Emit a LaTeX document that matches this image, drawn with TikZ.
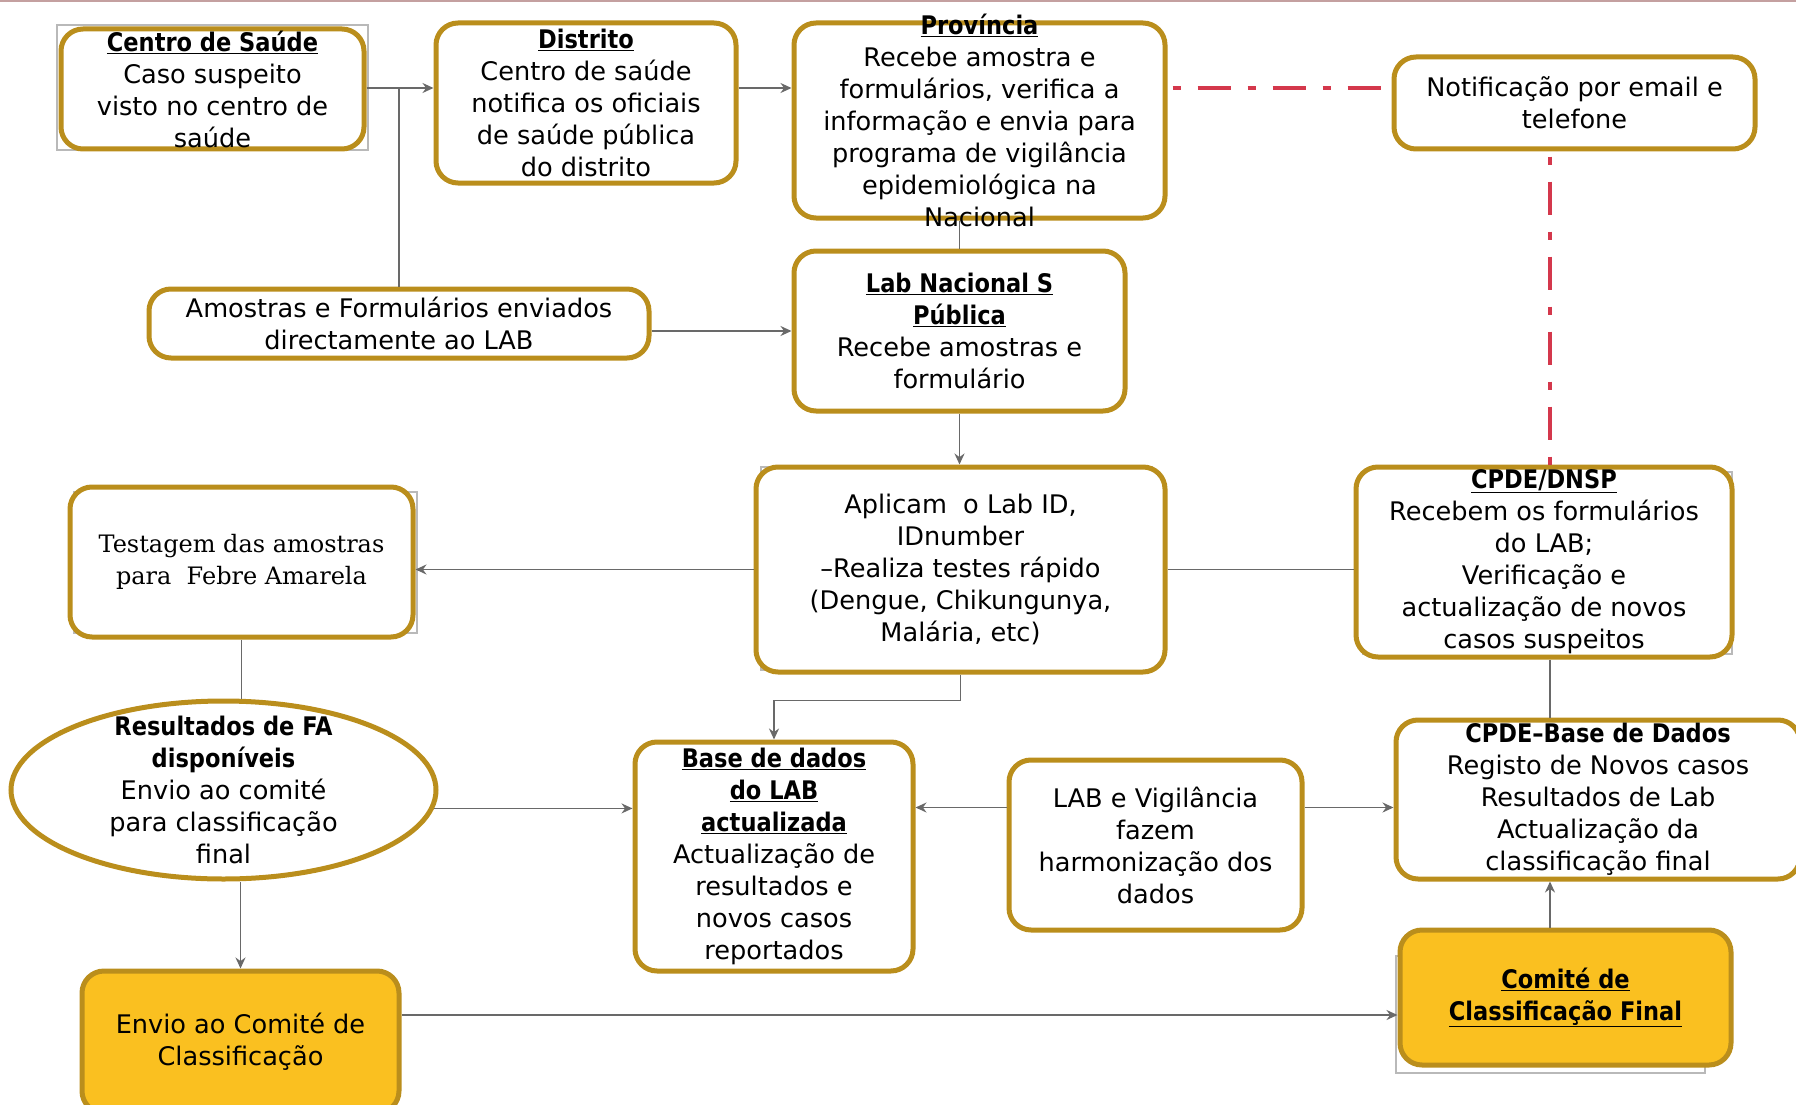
\documentclass[tikz,border=0pt]{standalone}
\usepackage{fontspec}
\setmainfont{DejaVu Sans}[BoldFeatures={FakeStretch=0.88}]
\newfontfamily\serfont{DejaVu Serif}
\usepackage{xcolor}
\usepackage{tikz}
\usetikzlibrary{arrows.meta, positioning, shapes.geometric}

\definecolor{gold}{RGB}{186,142,28}
\definecolor{amber}{RGB}{250,192,32}
\definecolor{linegray}{RGB}{105,105,105}
\definecolor{alertred}{RGB}{212,56,76}
\definecolor{rimline}{RGB}{196,160,160}

\newcommand{\hd}[1]{\textbf{\underline{#1}}}
\newcommand{\txtsize}{\fontsize{25.6}{32}\selectfont}

\begin{document}
\begin{tikzpicture}[
    x=1pt, y=-1pt,
    box/.style={draw=gold, fill=white, line width=5pt, rounded corners=22pt,
                align=center, inner xsep=4pt, inner ysep=-20pt, font=\txtsize},
    hot/.style={box, fill=amber},
    oval/.style={ellipse, draw=gold, fill=white, line width=5pt,
                 align=center, inner xsep=0pt, inner ysep=-20pt, font=\txtsize},
    link/.style={draw=linegray, line width=1.6pt},
    arr/.style={link, -{Stealth[length=11pt, width=10pt]}},
    alert/.style={draw=alertred, line width=3.5pt,
                  dash pattern=on 8pt off 17pt on 33pt off 17pt, dash phase=-5pt},
    ghost/.style={draw=gray!55, line width=1.5pt}
  ]
  \useasboundingbox (0,0) rectangle (1796,1105);
  \draw[rimline, line width=2pt] (0,1) -- (1796,1);

  % frames left behind the boxes
  \draw[ghost] (57,25) rectangle (368,150);
  \draw[ghost] (74,492) rectangle (417,633);
  \draw[ghost] (761,467) rectangle (1152,670);
  \draw[ghost] (1363,472) rectangle (1732,654);
  \draw[ghost] (1396,956) rectangle (1705,1073);

  % top row
  \node[box, minimum width=303pt, minimum height=120pt] (cs) at (212.5,89)
    {\hd{Centro de Saúde}\\Caso suspeito\\visto no centro de\\saúde};
  \node[box, minimum width=300pt, minimum height=160pt] (dist) at (586,103)
    {\hd{Distrito}\\Centro de saúde\\notifica os oficiais\\de saúde pública\\do distrito};
  \node[box, minimum width=371pt, minimum height=195pt] (prov) at (979.5,120.5)
    {\hd{Província}\\Recebe amostra e\\formulários, verifica a\\informação e envia para\\programa de vigilância\\epidemiológica na\\Nacional};
  \node[box, minimum width=361pt, minimum height=92pt] (notif) at (1574.5,103)
    {Notificação por email e\\telefone};

  % samples and lab
  \node[box, minimum width=500pt, minimum height=69pt] (amos) at (399,323.5)
    {Amostras e Formulários enviados\\directamente ao LAB};
  \node[box, minimum width=331pt, minimum height=160pt] (lab) at (959.5,331)
    {\hd{Lab Nacional S}\\\hd{Pública}\\Recebe amostras e\\formulário};

  % middle row
  \node[box, minimum width=343pt, minimum height=150pt,
        font=\serfont\fontsize{24}{32}\selectfont] (test) at (241.5,562)
    {Testagem das amostras\\para~ Febre Amarela};
  \node[box, minimum width=409pt, minimum height=205pt] (apl) at (960.5,569.5)
    {Aplicam~ o Lab ID,\\IDnumber\\–Realiza testes rápido\\(Dengue, Chikungunya,\\Malária, etc)};
  \node[box, minimum width=376pt, minimum height=190pt] (dnsp) at (1544,562)
    {\hd{CPDE/DNSP}\\Recebem os formulários\\do LAB;\\Verificação e\\actualização de novos\\casos suspeitos};

  % lower row
  \node[oval, minimum width=425pt, minimum height=178pt] (res) at (223.5,790)
    {\textbf{Resultados de FA}\\\textbf{disponíveis}\\Envio ao comité\\para classificação\\final};
  \node[box, minimum width=278pt, minimum height=229pt] (base) at (774,856.5)
    {\hd{Base de dados}\\\hd{do LAB}\\\hd{actualizada}\\Actualização de\\resultados e\\novos casos\\reportados};
  \node[box, minimum width=293pt, minimum height=170pt] (harm) at (1155.5,845)
    {LAB e Vigilância\\fazem\\harmonização dos\\dados};
  \node[box, minimum width=404pt, minimum height=159pt] (cbase) at (1598,799.5)
    {\textbf{CPDE–Base de Dados}\\Registo de Novos casos\\Resultados de Lab\\Actualização da\\classificação final};

  % committee
  \node[hot, minimum width=317pt, minimum height=142pt] (envio) at (240.5,1042)
    {Envio ao Comité de\\Classificação};
  \node[hot, minimum width=331pt, minimum height=135pt] (com) at (1565.5,997.5)
    {\hd{Comité de}\\\hd{Classificação Final}};

  \coordinate (rowA) at (0,88);
  \coordinate (rowB) at (0,807.5);
  \coordinate (rowC) at (0,1015);
  \coordinate (colR) at (1550,0);

  % connectors
  \draw[arr] (cs.east |- rowA) -- (dist.west |- rowA);
  \draw[link] (amos.north) -- (amos.north |- rowA);
  \draw[arr] (dist.east |- rowA) -- (prov.west |- rowA);
  \draw[link] (prov.south -| lab.north) -- (lab.north);
  \draw[arr] (amos.east |- lab.west) -- (lab.west);
  \draw[arr] (lab.south) -- (lab.south |- apl.north);
  \draw[arr] (apl.west) -- (apl.west -| test.east);
  \draw[link] (apl.east) -- (apl.east -| dnsp.west);
  \draw[arr] (apl.south) -- ++(0,26) -| (base.north);
  \draw[link] (test.south) -- (test.south |- res.north);
  \draw[arr] (res.-5) -- (res.-5 -| base.west);
  \draw[arr] (res.south -| envio.north) -- (envio.north);
  \draw[arr] (harm.west |- rowB) -- (base.east |- rowB);
  \draw[arr] (harm.east |- rowB) -- (cbase.west |- rowB);
  \draw[link] (dnsp.south -| colR) -- (cbase.north -| colR);
  \draw[arr] (com.north -| colR) -- (cbase.south -| colR);
  \draw[arr] (envio.east |- rowC) -- (com.west |- rowC);

  % notification links
  \draw[alert] (prov.east |- rowA) -- (notif.west |- rowA);
  \draw[alert] (notif.south -| colR) -- (dnsp.north -| colR);
\end{tikzpicture}
\end{document}
